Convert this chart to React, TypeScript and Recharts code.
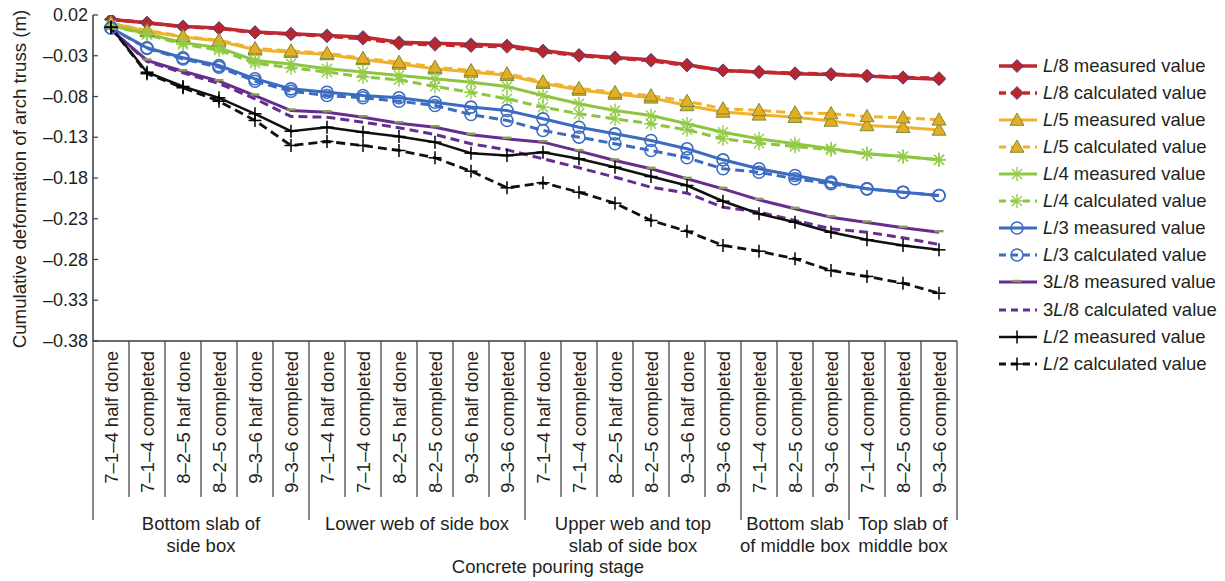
import React from "react";
import { LineChart, Line, XAxis, YAxis } from "recharts";

// ---------------- DATA ----------------
const stages = [
  "7–1–4 half done", "7–1–4 completed", "8–2–5 half done", "8–2–5 completed", "9–3–6 half done", "9–3–6 completed",
  "7–1–4 half done", "7–1–4 completed", "8–2–5 half done", "8–2–5 completed", "9–3–6 half done", "9–3–6 completed",
  "7–1–4 half done", "7–1–4 completed", "8–2–5 half done", "8–2–5 completed", "9–3–6 half done", "9–3–6 completed",
  "7–1–4 completed", "8–2–5 completed", "9–3–6 completed",
  "7–1–4 completed", "8–2–5 completed", "9–3–6 completed",
];

const groupLabels = [
  ["Bottom slab of", "side box"],
  ["Lower web of side box"],
  ["Upper web and top", "slab of side box"],
  ["Bottom slab", "of middle box"],
  ["Top slab of", "middle box"],
];
const groupSizes = [6, 6, 6, 3, 3];

const yTicks = [0.02, -0.03, -0.08, -0.13, -0.18, -0.23, -0.28, -0.33, -0.38];

const l8Measured = [0.0145, 0.0104, 0.006, 0.004, -0.001, -0.003, -0.005, -0.007, -0.0134, -0.0146, -0.016, -0.0174, -0.0236, -0.029, -0.032, -0.035, -0.041, -0.048, -0.05, -0.052, -0.053, -0.055, -0.057, -0.0588];
const l8Calculated = [0.0145, 0.0104, 0.0055, 0.0035, -0.0015, -0.0035, -0.006, -0.009, -0.015, -0.0165, -0.018, -0.019, -0.025, -0.03, -0.033, -0.036, -0.042, -0.048, -0.05, -0.0515, -0.0525, -0.0545, -0.0565, -0.0575];
const l5Measured = [0.01, 0.0, -0.007, -0.012, -0.0227, -0.0256, -0.0285, -0.0346, -0.04, -0.046, -0.05, -0.054, -0.0637, -0.072, -0.077, -0.0816, -0.091, -0.099, -0.1025, -0.1054, -0.11, -0.1156, -0.1177, -0.121];
const l5Calculated = [0.01, 0.001, -0.006, -0.011, -0.021, -0.024, -0.027, -0.033, -0.038, -0.044, -0.048, -0.052, -0.062, -0.07, -0.075, -0.079, -0.0858, -0.095, -0.097, -0.1, -0.101, -0.1045, -0.106, -0.1086];
const l4Measured = [0.007, -0.003, -0.014, -0.02, -0.0358, -0.04, -0.046, -0.05, -0.0542, -0.0583, -0.0624, -0.0677, -0.0788, -0.089, -0.0972, -0.1033, -0.1135, -0.1238, -0.1319, -0.138, -0.1442, -0.1503, -0.1536, -0.1577];
const l4Calculated = [0.007, -0.004, -0.016, -0.023, -0.039, -0.0448, -0.05, -0.056, -0.0595, -0.0677, -0.0747, -0.0828, -0.093, -0.1012, -0.1074, -0.1135, -0.1209, -0.1319, -0.1373, -0.1413, -0.1454, -0.1503, -0.1536, -0.1577];
const l3Measured = [0.004, -0.0202, -0.0325, -0.042, -0.0583, -0.0706, -0.0747, -0.0788, -0.0816, -0.087, -0.093, -0.0972, -0.1074, -0.1177, -0.1258, -0.134, -0.1442, -0.1577, -0.1687, -0.177, -0.1851, -0.1933, -0.1974, -0.2015];
const l3Calculated = [0.004, -0.021, -0.034, -0.044, -0.0612, -0.0735, -0.0788, -0.0816, -0.0858, -0.091, -0.1021, -0.1094, -0.1217, -0.1299, -0.138, -0.1462, -0.1552, -0.1687, -0.1729, -0.181, -0.1871, -0.1933, -0.1974, -0.2015];
const l38Measured = [0.002, -0.0358, -0.049, -0.0612, -0.0788, -0.0972, -0.0993, -0.1054, -0.1127, -0.1177, -0.127, -0.1319, -0.136, -0.147, -0.1585, -0.1687, -0.181, -0.1933, -0.2068, -0.2178, -0.2281, -0.2346, -0.2411, -0.2465];
const l38Calculated = [0.002, -0.037, -0.051, -0.064, -0.0828, -0.1045, -0.1054, -0.1115, -0.1184, -0.1266, -0.138, -0.1454, -0.1564, -0.1675, -0.179, -0.1913, -0.1986, -0.2158, -0.2219, -0.2321, -0.2423, -0.2465, -0.2534, -0.2616];
const l2Measured = [0.005, -0.0502, -0.0677, -0.0816, -0.1012, -0.1226, -0.1177, -0.1238, -0.1291, -0.136, -0.1495, -0.1524, -0.1483, -0.1564, -0.1668, -0.1782, -0.1892, -0.2085, -0.2239, -0.2342, -0.2465, -0.2558, -0.2628, -0.2681];
const l2Calculated = [0.005, -0.052, -0.0693, -0.0858, -0.1094, -0.1401, -0.1352, -0.1401, -0.1462, -0.1552, -0.1716, -0.192, -0.1859, -0.1974, -0.2109, -0.2321, -0.2453, -0.2628, -0.2698, -0.2791, -0.2935, -0.3008, -0.3091, -0.3214];

const data = stages.map((s, i) => ({
  i,
  l8m: l8Measured[i], l8c: l8Calculated[i],
  l5m: l5Measured[i], l5c: l5Calculated[i],
  l4m: l4Measured[i], l4c: l4Calculated[i],
  l3m: l3Measured[i], l3c: l3Calculated[i],
  l38m: l38Measured[i], l38c: l38Calculated[i],
  l2m: l2Measured[i], l2c: l2Calculated[i],
}));

// ---------------- STYLE ----------------
const FONT = "'Liberation Sans', Arial, sans-serif";
const TEXT = "#231f20";
const AXIS = "#3a3a3a";
const W = 1225;
const H = 581;
const PLOT_L = 93;
const PLOT_T = 15;
const PLOT_R = 957;
const PLOT_B = 341;
const BAND = (PLOT_R - PLOT_L) / stages.length;

const RED = "#c1272d";
const YEL = "#efb22a";
const GRN = "#8cc63f";
const BLU = "#3b6cc1";
const PUR = "#662d91";
const BLK = "#111111";

type MarkerType = "diamond" | "triangle" | "asterisk" | "circle" | "bar" | "plus" | "none";

const series: { key: string; pre: string; post: string; color: string; dashed: boolean; marker: MarkerType; width: number }[] = [
  { key: "l8m", pre: "", post: "/8 measured value", color: RED, dashed: false, marker: "diamond", width: 3.5 },
  { key: "l8c", pre: "", post: "/8 calculated value", color: RED, dashed: true, marker: "diamond", width: 3.5 },
  { key: "l5m", pre: "", post: "/5 measured value", color: YEL, dashed: false, marker: "triangle", width: 3 },
  { key: "l5c", pre: "", post: "/5 calculated value", color: YEL, dashed: true, marker: "triangle", width: 3 },
  { key: "l4m", pre: "", post: "/4 measured value", color: GRN, dashed: false, marker: "asterisk", width: 3 },
  { key: "l4c", pre: "", post: "/4 calculated value", color: GRN, dashed: true, marker: "asterisk", width: 3 },
  { key: "l3m", pre: "", post: "/3 measured value", color: BLU, dashed: false, marker: "circle", width: 3 },
  { key: "l3c", pre: "", post: "/3 calculated value", color: BLU, dashed: true, marker: "circle", width: 3 },
  { key: "l38m", pre: "3", post: "/8 measured value", color: PUR, dashed: false, marker: "bar", width: 3 },
  { key: "l38c", pre: "3", post: "/8 calculated value", color: PUR, dashed: true, marker: "none", width: 3 },
  { key: "l2m", pre: "", post: "/2 measured value", color: BLK, dashed: false, marker: "plus", width: 2.5 },
  { key: "l2c", pre: "", post: "/2 calculated value", color: BLK, dashed: true, marker: "plus", width: 2.8 },
];

function Marker({ type, cx, cy, color }: { type: MarkerType; cx: number; cy: number; color: string }) {
  if (cx == null || cy == null || isNaN(cx) || isNaN(cy)) return null;
  switch (type) {
    case "diamond": {
      const s = 6.5;
      return (
        <polygon
          points={`${cx},${cy - s} ${cx + s},${cy} ${cx},${cy + s} ${cx - s},${cy}`}
          fill="#b8262e"
          stroke="#5b3c78"
          strokeWidth={0.8}
        />
      );
    }
    case "triangle": {
      const s = 7;
      return (
        <polygon
          points={`${cx},${cy - s} ${cx + s},${cy + s * 0.75} ${cx - s},${cy + s * 0.75}`}
          fill="#e4ad22"
          stroke="#7c8b3a"
          strokeWidth={1}
        />
      );
    }
    case "asterisk": {
      const s = 7;
      const d = s * 0.72;
      return (
        <g stroke="#93cc4a" strokeWidth={1.4}>
          <line x1={cx - s} y1={cy} x2={cx + s} y2={cy} />
          <line x1={cx} y1={cy - s} x2={cx} y2={cy + s} />
          <line x1={cx - d} y1={cy - d} x2={cx + d} y2={cy + d} />
          <line x1={cx - d} y1={cy + d} x2={cx + d} y2={cy - d} />
        </g>
      );
    }
    case "circle":
      return <circle cx={cx} cy={cy} r={6} fill="none" stroke={color} strokeWidth={1.6} />;
    case "bar":
      return <rect x={cx - 4.5} y={cy - 2.2} width={9} height={2.4} fill="#8b9a5a" />;
    case "plus": {
      const s = 6.5;
      return (
        <g stroke="#000" strokeWidth={1.5}>
          <line x1={cx - s} y1={cy} x2={cx + s} y2={cy} />
          <line x1={cx} y1={cy - s} x2={cx} y2={cy + s} />
        </g>
      );
    }
    default:
      return null;
  }
}

const groupStartIndex: Record<number, number> = {};
{
  let acc = 0;
  groupSizes.forEach((s, g) => {
    groupStartIndex[acc] = g;
    acc += s;
  });
}

function XTick(props: any) {
  const { x, payload } = props;
  const k = payload.value as number;
  const y = PLOT_B;
  const isGroupStart = groupStartIndex[k] !== undefined;
  const left = x - BAND / 2;
  const ty = y + 10;
  const els: React.ReactNode[] = [];
  els.push(
    <line key="l" x1={left} x2={left} y1={y} y2={isGroupStart ? y + 179 : y + 156} stroke={AXIS} strokeWidth={1.2} />
  );
  if (k === stages.length - 1) {
    els.push(<line key="r" x1={x + BAND / 2} x2={x + BAND / 2} y1={y} y2={y + 179} stroke={AXIS} strokeWidth={1.2} />);
  }
  els.push(
    <text
      key="t"
      x={x}
      y={ty}
      transform={`rotate(-90 ${x} ${ty})`}
      textAnchor="end"
      dominantBaseline="central"
      fontSize={18.5}
      fontFamily={FONT}
      fill={TEXT}
    >
      {stages[k]}
    </text>
  );
  if (isGroupStart) {
    const g = groupStartIndex[k];
    const cx = left + (groupSizes[g] * BAND) / 2;
    groupLabels[g].forEach((line, li) => {
      els.push(
        <text
          key={`g${li}`}
          x={cx}
          y={y + 182 + li * 22}
          textAnchor="middle"
          dominantBaseline="central"
          fontSize={18.5}
          fontFamily={FONT}
          fill={TEXT}
        >
          {line}
        </text>
      );
    });
  }
  return <g>{els}</g>;
}

function YTick(props: any) {
  const { y, payload } = props;
  const v = payload.value as number;
  const label = (v < 0 ? "–" : "") + Math.abs(v).toFixed(2);
  return (
    <g>
      <line x1={PLOT_L} x2={PLOT_L + 5} y1={y} y2={y} stroke={AXIS} strokeWidth={1.2} />
      <text x={PLOT_L - 5} y={y} textAnchor="end" dominantBaseline="central" fontSize={18} fontFamily={FONT} fill={TEXT}>
        {label}
      </text>
    </g>
  );
}

function LegendBox() {
  return (
    <div style={{ position: "absolute", left: 997, top: 52.2, fontFamily: FONT, fontSize: 18.5, color: TEXT }}>
      {series.map((s) => (
        <div key={s.key} style={{ display: "flex", alignItems: "center", height: 27.1, whiteSpace: "nowrap" }}>
          <svg width={42} height={20} style={{ display: "block" }}>
            <line
              x1={2}
              x2={40}
              y1={10}
              y2={10}
              stroke={s.color}
              strokeWidth={s.width}
              strokeDasharray={s.dashed ? "7 5" : undefined}
            />
            <Marker type={s.marker} cx={20} cy={10} color={s.color} />
          </svg>
          <span style={{ marginLeft: 4 }}>
            {s.pre}
            <i>L</i>
            {s.post}
          </span>
        </div>
      ))}
    </div>
  );
}

export default function App() {
  return (
    <div style={{ position: "relative", width: W, height: H, background: "#fff", overflow: "hidden" }}>
      <style>{"body{margin:0;background:#fff;}"}</style>
      <LineChart
        width={W}
        height={H}
        data={data}
        margin={{ top: PLOT_T, right: W - PLOT_R, bottom: 40, left: PLOT_L - 60 }}
      >
        <XAxis
          dataKey="i"
          type="category"
          scale="band"
          interval={0}
          height={H - 40 - PLOT_B}
          tickLine={false}
          tickSize={0}
          tickMargin={0}
          tick={<XTick />}
          axisLine={{ stroke: AXIS, strokeWidth: 1.5 }}
        />
        <XAxis
          xAxisId="top"
          dataKey="i"
          scale="band"
          orientation="top"
          height={0}
          tick={false}
          tickLine={false}
          axisLine={{ stroke: "#555", strokeWidth: 1.5 }}
        />
        <YAxis
          width={60}
          type="number"
          domain={[-0.38, 0.02]}
          ticks={yTicks}
          interval={0}
          tickLine={false}
          tickSize={0}
          tickMargin={0}
          tick={<YTick />}
          axisLine={{ stroke: AXIS, strokeWidth: 1.5 }}
          allowDataOverflow
        />
        <YAxis
          yAxisId="right"
          orientation="right"
          width={0}
          tick={false}
          tickLine={false}
          axisLine={{ stroke: "#555", strokeWidth: 1.5 }}
        />
        {series.map((s) => (
          <Line
            key={s.key}
            dataKey={s.key}
            type="linear"
            stroke={s.color}
            strokeWidth={s.width}
            strokeDasharray={s.dashed ? "9 5" : undefined}
            isAnimationActive={false}
            activeDot={false}
            dot={(p: any) => (
              <g key={`${s.key}-${p.index}`}>
                <Marker type={s.marker} cx={p.cx} cy={p.cy} color={s.color} />
              </g>
            )}
          />
        ))}
      </LineChart>
      <div
        style={{
          position: "absolute",
          left: 20,
          top: 179,
          transform: "translate(-50%, -50%) rotate(-90deg)",
          whiteSpace: "nowrap",
          fontFamily: FONT,
          fontSize: 18.7,
          color: TEXT,
        }}
      >
        Cumulative deformation of arch truss (m)
      </div>
      <div
        style={{
          position: "absolute",
          left: 548,
          top: 567,
          transform: "translate(-50%, -50%)",
          whiteSpace: "nowrap",
          fontFamily: FONT,
          fontSize: 18.5,
          color: TEXT,
        }}
      >
        Concrete pouring stage
      </div>
      <LegendBox />
    </div>
  );
}
